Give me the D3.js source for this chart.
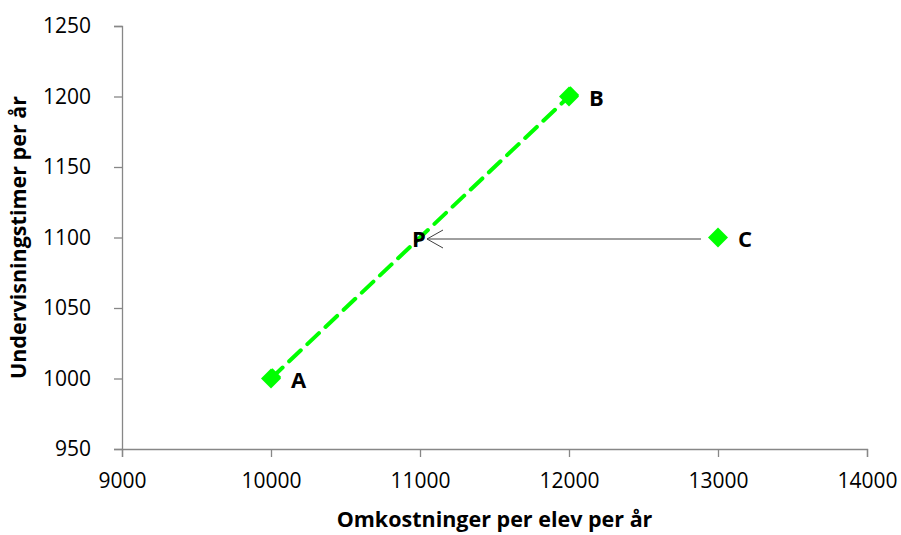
<!DOCTYPE html>
<html>
<head>
<meta charset="utf-8">
<script src="https://cdn.jsdelivr.net/npm/d3@7"></script>
<style>
  body { margin: 0; background: #fff; }
  svg { display: block; }
</style>
</head>
<body>
<svg id="chart" width="901" height="535"></svg>
<script>
// data
const pointNames = ['A', 'B', 'C'];
const costs = [10000, 12000, 13000];
const hours = [1000, 1200, 1100];
const lineNames = ['A', 'B'];
const arrowFrom = 'C';
const arrowTo = {name: 'P', cost: 11000, hours: 1100};
const xTicks = [9000, 10000, 11000, 12000, 13000, 14000];
const yTicks = [950, 1000, 1050, 1100, 1150, 1200, 1250];

const xTitle = 'Omkostninger per elev per år';
const yTitle = 'Undervisningstimer per år';

const margin = {top: 26, right: 34, bottom: 86, left: 122};
const width = 901;
const height = 535;
const innerW = width - margin.left - margin.right;
const innerH = height - margin.top - margin.bottom;

const font = '"Open Sans", "Liberation Sans", sans-serif';
const axisColor = '#878787';
const green = '#00ff00';

const points = pointNames.map((n, i) => ({name: n, cost: costs[i], hours: hours[i]}));
const byName = n => points.find(p => p.name === n);

const xScale = d3.scaleLinear().domain([9000, 14000]).range([0, innerW]);
const yScale = d3.scaleLinear().domain([950, 1250]).range([innerH, 0]);

const svg = d3.select('#chart');
const g = svg.append('g').attr('transform', `translate(${margin.left},${margin.top})`);

// axes
const xAxis = g.append('g')
  .attr('transform', `translate(0,${innerH})`)
  .call(d3.axisBottom(xScale).tickValues(xTicks).tickSize(8).tickPadding(20).tickFormat(d3.format('d')));
const yAxis = g.append('g')
  .call(d3.axisLeft(yScale).tickValues(yTicks).tickSize(8).tickPadding(23).tickFormat(d3.format('d')));

[xAxis, yAxis].forEach(ax => {
  ax.select('.domain').attr('stroke', axisColor).attr('stroke-width', 1.3);
  ax.selectAll('.tick line').attr('stroke', axisColor).attr('stroke-width', 1.3);
  ax.selectAll('.tick text')
    .attr('fill', '#000')
    .attr('font-family', font)
    .attr('font-size', '21px');
});
xAxis.selectAll('.tick text').attr('dy', '0.5em');

// dashed line A-B
const linePts = lineNames.map(byName);
g.append('path')
  .datum(linePts)
  .attr('fill', 'none')
  .attr('stroke', green)
  .attr('stroke-width', 4)
  .attr('stroke-dasharray', '16 9')
  .attr('stroke-linecap', 'round')
  .attr('d', d3.line().x(d => xScale(d.cost)).y(d => yScale(d.hours)));

// arrow C -> P
const c = byName(arrowFrom);
const ax1 = xScale(c.cost) - 17;
const ax2 = xScale(arrowTo.cost) + 7;
const ay = yScale(arrowTo.hours) + 1.5;
const arrow = g.append('g').attr('stroke', '#404040').attr('stroke-width', 1).attr('fill', 'none');
arrow.append('line').attr('x1', ax1).attr('y1', ay).attr('x2', ax2).attr('y2', ay);
arrow.append('path')
  .attr('d', `M${ax2 + 16},${ay - 9}L${ax2},${ay}L${ax2 + 16},${ay + 9}`);

// markers (A and B carry a second, slightly offset marker from the line series)
const markers = g.append('g').attr('fill', green);
linePts.forEach(p => {
  markers.append('path')
    .attr('d', d3.symbol().type(d3.symbolSquare).size(150)())
    .attr('transform', `translate(${xScale(p.cost) + 1.5},${yScale(p.hours) - 1.5}) rotate(45)`);
});
points.forEach(p => {
  markers.append('path')
    .attr('d', d3.symbol().type(d3.symbolSquare).size(200)())
    .attr('transform', `translate(${xScale(p.cost)},${yScale(p.hours)}) rotate(45)`);
});

// point labels
g.append('g').selectAll('text')
  .data(points)
  .join('text')
  .attr('x', d => xScale(d.cost) + 20)
  .attr('y', d => yScale(d.hours) + 9)
  .attr('font-family', font)
  .attr('font-weight', 'bold')
  .attr('font-size', '22px')
  .text(d => d.name);

g.append('text')
  .attr('x', xScale(arrowTo.cost) - 1)
  .attr('y', yScale(arrowTo.hours) + 9)
  .attr('text-anchor', 'middle')
  .attr('font-family', font)
  .attr('font-weight', 'bold')
  .attr('font-size', '22px')
  .text(arrowTo.name);

// axis titles
svg.append('text')
  .attr('x', margin.left + innerW / 2)
  .attr('y', 527)
  .attr('text-anchor', 'middle')
  .attr('font-family', font)
  .attr('font-weight', 'bold')
  .attr('font-size', '21.5px')
  .text(xTitle);

svg.append('text')
  .attr('transform', `translate(26,${margin.top + innerH / 2}) rotate(-90)`)
  .attr('text-anchor', 'middle')
  .attr('font-family', font)
  .attr('font-weight', 'bold')
  .attr('font-size', '21.5px')
  .text(yTitle);
</script>
</body>
</html>
